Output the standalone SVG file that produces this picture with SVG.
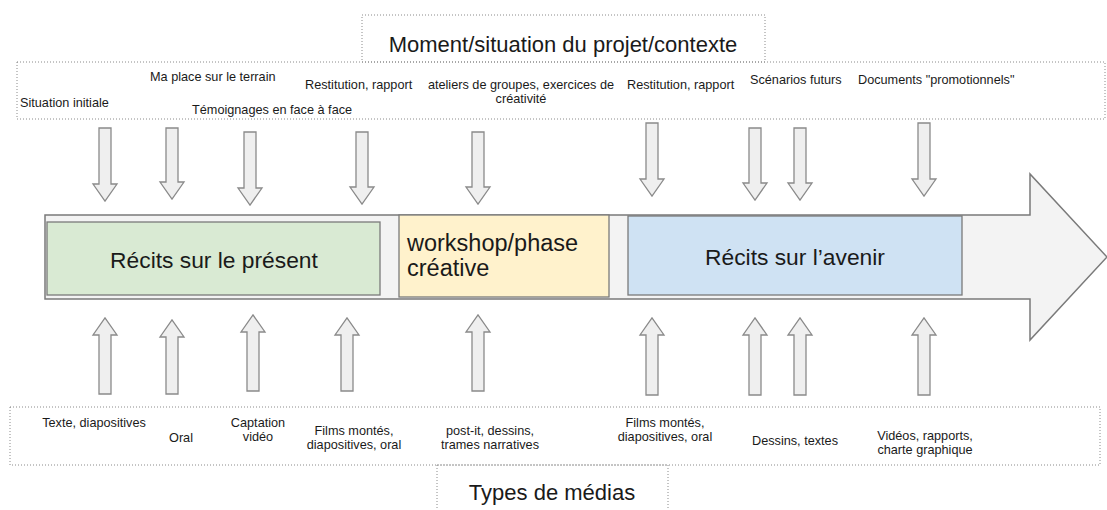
<svg xmlns="http://www.w3.org/2000/svg" width="1107" height="510" viewBox="0 0 1107 510">
<style>
text{font-family:"Liberation Sans",Arial,sans-serif;fill:#1a1a1a}
.s{font-size:12.7px}
.t{font-size:22px}
.b{font-size:22.8px}
.dot{fill:none;stroke:#8a8a8a;stroke-width:1;stroke-dasharray:1,2}
.arr{fill:#efefef;stroke:#8a8a8a;stroke-width:1.3}
.big{fill:#f3f3f3;stroke:#7a7a7a;stroke-width:1.5}
.c{text-anchor:middle}
</style>
<rect width="1107" height="510" fill="#fff"/>
<g id="title-top">
<rect class="dot" x="362" y="15" width="403" height="47"/>
<text class="t c" x="563" y="52">Moment/situation du projet/contexte</text>
</g>
<g id="labels-top">
<rect class="dot" x="17" y="62" width="1088" height="57"/>
<text class="s" x="20" y="107">Situation initiale</text>
<text class="s" x="150" y="81">Ma place sur le terrain</text>
<text class="s" x="192" y="114">Témoignages en face à face</text>
<text class="s" x="305" y="89">Restitution, rapport</text>
<text class="s c" x="521" y="89">ateliers de groupes, exercices de</text>
<text class="s c" x="521" y="103">créativité</text>
<text class="s" x="627" y="89">Restitution, rapport</text>
<text class="s" x="750" y="84">Scénarios futurs</text>
<text class="s" x="858" y="84">Documents "promotionnels"</text>
</g>
<g id="timeline">
<path class="big" d="M45,215 H1030 V174 L1107,257 L1030,340 V299 H45 Z"/>
</g>
<g id="present">
<rect x="47" y="222" width="333" height="73" fill="#d9ead3" stroke="#7a7a7a" stroke-width="1.3"/>
<text class="b c" x="214" y="268">Récits sur le présent</text>
</g>
<g id="workshop">
<rect x="399" y="215" width="210" height="82" fill="#fff2cc" stroke="#7a7a7a" stroke-width="1.3"/>
<text class="b" x="407" y="251" style="font-size:23.5px">workshop/phase</text>
<text class="b" x="407" y="276" style="font-size:23.5px">créative</text>
</g>
<g id="avenir">
<rect x="628" y="216" width="334" height="79" fill="#cfe2f3" stroke="#7a7a7a" stroke-width="1.3"/>
<text class="b c" x="795" y="265">Récits sur l’avenir</text>
</g>
<g id="connectors">
<path class="arr" d="M99,128 H111 V184 H117 L105,201 L93,184 H99 Z"/>
<path class="arr" d="M166,128 H178 V182 H184 L172,199 L160,182 H166 Z"/>
<path class="arr" d="M244,132 H256 V188 H262 L250,205 L238,188 H244 Z"/>
<path class="arr" d="M356,132 H368 V187 H374 L362,204 L350,187 H356 Z"/>
<path class="arr" d="M472,132 H484 V187 H490 L478,204 L466,187 H472 Z"/>
<path class="arr" d="M646,123 H658 V179 H664 L652,196 L640,179 H646 Z"/>
<path class="arr" d="M749,128 H761 V183 H767 L755,200 L743,183 H749 Z"/>
<path class="arr" d="M794,128 H806 V183 H812 L800,200 L788,183 H794 Z"/>
<path class="arr" d="M918,123 H930 V179 H936 L924,196 L912,179 H918 Z"/>
<path class="arr" d="M99,394 H111 V335 H117 L105,318 L93,335 H99 Z"/>
<path class="arr" d="M166,394 H178 V337 H184 L172,320 L160,337 H166 Z"/>
<path class="arr" d="M247,391 H259 V332 H265 L253,315 L241,332 H247 Z"/>
<path class="arr" d="M341,391 H353 V335 H359 L347,318 L335,335 H341 Z"/>
<path class="arr" d="M472,391 H484 V332 H490 L478,315 L466,332 H472 Z"/>
<path class="arr" d="M646,395 H658 V335 H664 L652,318 L640,335 H646 Z"/>
<path class="arr" d="M749,395 H761 V335 H767 L755,318 L743,335 H749 Z"/>
<path class="arr" d="M794,395 H806 V335 H812 L800,318 L788,335 H794 Z"/>
<path class="arr" d="M918,395 H930 V335 H936 L924,318 L912,335 H918 Z"/>
</g>
<g id="labels-bottom">
<rect class="dot" x="10" y="407" width="1090" height="58"/>
<text class="s c" x="94" y="427">Texte, diapositives</text>
<text class="s c" x="181" y="442">Oral</text>
<text class="s c" x="258" y="427">Captation</text>
<text class="s c" x="258" y="441">vidéo</text>
<text class="s c" x="354" y="435">Films montés,</text>
<text class="s c" x="354" y="449">diapositives, oral</text>
<text class="s c" x="490" y="435">post-it, dessins,</text>
<text class="s c" x="490" y="449">trames narratives</text>
<text class="s c" x="665" y="427">Films montés,</text>
<text class="s c" x="665" y="441">diapositives, oral</text>
<text class="s c" x="795" y="445">Dessins, textes</text>
<text class="s c" x="925" y="440">Vidéos, rapports,</text>
<text class="s c" x="925" y="454">charte graphique</text>
</g>
<g id="title-bottom">
<rect class="dot" x="437" y="465" width="231" height="50"/>
<text class="t c" x="552" y="500">Types de médias</text>
</g>
</svg>
